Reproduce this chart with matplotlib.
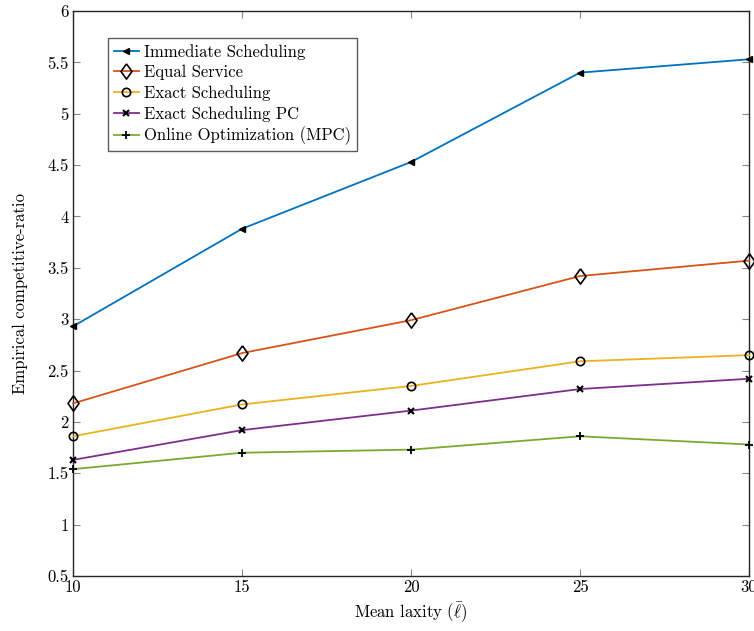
import matplotlib
matplotlib.use("Agg")
import matplotlib.pyplot as plt

plt.rcParams['font.family'] = 'serif'
plt.rcParams['font.serif'] = ['cmr10', 'DejaVu Serif']
plt.rcParams['mathtext.fontset'] = 'cm'
plt.rcParams['axes.formatter.use_mathtext'] = True

x = [10, 15, 20, 25, 30]
immediate = [2.93, 3.88, 4.53, 5.40, 5.53]
equal_service = [2.18, 2.67, 2.99, 3.42, 3.57]
exact = [1.86, 2.17, 2.35, 2.59, 2.65]
exact_pc = [1.63, 1.92, 2.11, 2.32, 2.42]
online = [1.54, 1.70, 1.73, 1.86, 1.78]

labels = ["Immediate Scheduling", "Equal Service", "Exact Scheduling",
          "Exact Scheduling PC", "Online Optimization (MPC)"]
colors = ["#0072BD", "#D95319", "#EDB120", "#7E2F8E", "#77AC30"]
xticks = [10, 15, 20, 25, 30]
yticks = [0.5, 1, 1.5, 2, 2.5, 3, 3.5, 4, 4.5, 5, 5.5, 6]
ytick_labels = ["0.5", "1", "1.5", "2", "2.5", "3", "3.5", "4", "4.5", "5", "5.5", "6"]

fig = plt.figure(figsize=(7.54, 6.31), dpi=100)
ax = fig.add_axes([73/754, 1-576/631, 676/754, 565/631])

diamond = [(0, 1), (0.72, 0), (0, -1), (-0.72, 0), (0, 1)]
series = [immediate, equal_service, exact, exact_pc, online]
styles = [
    dict(marker='<', ms=5, mfc='black', mec='black'),
    dict(marker=diamond, ms=11, mfc='none', mec='black', mew=1.2),
    dict(marker='o', ms=6, mfc='none', mec='black', mew=1.2),
    dict(marker='x', ms=4.5, mfc='none', mec='black', mew=1.5),
    dict(marker='+', ms=6, mfc='none', mec='black', mew=1.3),
]
for ys, lab, c, st in zip(series, labels, colors, styles):
    ax.plot(x, ys, color=c, lw=1.3, label=lab, clip_on=False, zorder=3, **st)

ax.set_xlim(10, 30)
ax.set_ylim(0.5, 6)
ax.set_xticks(xticks)
ax.set_xticklabels([str(t) for t in xticks])
ax.set_yticks(yticks)
ax.set_yticklabels(ytick_labels)
ax.tick_params(direction='in', top=True, right=True, length=5, color='#888888',
               labelsize=12, pad=3)
for s in ax.spines.values():
    s.set_linewidth(1.0)
    s.set_color('#262626')

ax.set_xlabel(r"Mean laxity ($\bar{\ell}$)", fontsize=12, labelpad=4)
ax.set_ylabel("Empirical competitive-ratio", fontsize=12, labelpad=14)

leg = ax.legend(loc='upper left', bbox_to_anchor=(0.052, 0.952), fontsize=12,
                frameon=True, fancybox=False, edgecolor='#333333',
                handlelength=1.5, handletextpad=0.3, borderpad=0.35,
                labelspacing=0.3, borderaxespad=0)
leg.get_frame().set_linewidth(1.0)

fig.savefig("out.png", dpi=100)
